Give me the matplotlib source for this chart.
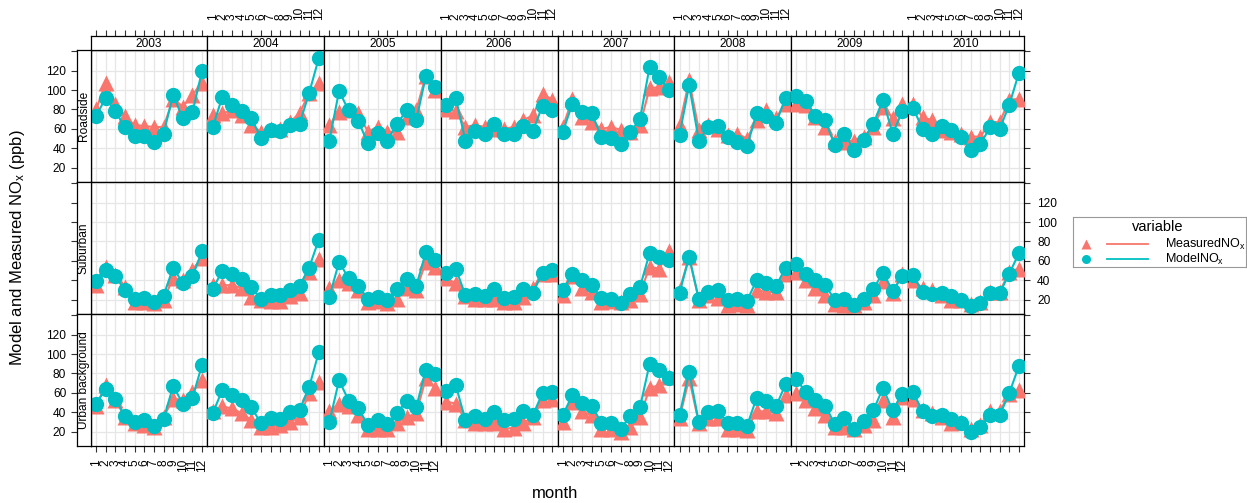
import matplotlib
matplotlib.use("Agg")
import matplotlib.pyplot as plt

plt.rcParams['font.family'] = ['Liberation Sans', 'DejaVu Sans']
plt.rcParams['mathtext.default'] = 'regular'

# === Данные ===
months = list(range(1, 13))
years = [2003, 2004, 2005, 2006, 2007, 2008, 2009, 2010]
sites = ["Roadside", "Suburban", "Urban background"]

roadside_measured = [
    [80, 107, 86, 73, 64, 63, 62, 62, 91, 83, 95, 107],
    [74, 76, 79, 74, 64, 57, 60, 60, 67, 76, 97, 107],
    [64, 77, 79, 76, 57, 62, 57, 57, 72, 79, 115, 100],
    [81, 78, 62, 64, 62, 60, 60, 62, 69, 74, 96, 90],
    [62, 91, 72, 67, 60, 62, 59, 57, 64, 102, 103, 108],
    [64, 110, 59, 64, 60, 54, 55, 50, 69, 79, 71, 86],
    [86, 85, 72, 62, 48, 47, 48, 52, 62, 83, 71, 86],
    [86, 72, 69, 59, 57, 55, 52, 52, 67, 67, 90, 91],
]
roadside_model = [
    [73, 92, 78, 62, 53, 53, 46, 55, 95, 71, 77, 120],
    [62, 93, 85, 78, 71, 51, 59, 58, 64, 65, 97, 133],
    [48, 99, 79, 68, 45, 56, 48, 65, 79, 69, 114, 103],
    [85, 92, 48, 58, 55, 65, 55, 55, 63, 58, 84, 79],
    [57, 86, 77, 76, 52, 51, 44, 57, 70, 124, 113, 100],
    [54, 105, 48, 62, 63, 52, 47, 42, 76, 73, 66, 92],
    [94, 89, 73, 69, 43, 55, 38, 49, 65, 90, 55, 78],
    [82, 60, 55, 63, 59, 52, 38, 44, 62, 60, 85, 118],
]
suburban_measured = [
    [35, 54, 45, 33, 18, 18, 17, 20, 42, 40, 51, 63],
    [35, 35, 35, 32, 23, 20, 19, 19, 24, 27, 49, 62],
    [32, 40, 37, 30, 18, 19, 17, 21, 32, 30, 59, 54],
    [42, 37, 24, 21, 21, 21, 18, 18, 23, 32, 47, 47],
    [25, 44, 32, 28, 18, 19, 18, 20, 26, 54, 52, 70],
    [30, 64, 20, 25, 22, 15, 16, 15, 30, 28, 28, 47],
    [49, 40, 32, 25, 16, 15, 15, 18, 25, 39, 27, 47],
    [40, 32, 30, 25, 20, 20, 16, 18, 28, 28, 49, 52],
]
suburban_model = [
    [39, 51, 44, 30, 21, 22, 18, 24, 53, 37, 44, 70],
    [31, 50, 47, 41, 33, 21, 25, 25, 30, 34, 53, 82],
    [23, 59, 42, 34, 21, 23, 20, 31, 41, 34, 69, 61],
    [48, 52, 25, 26, 24, 31, 22, 23, 31, 27, 48, 51],
    [30, 46, 40, 35, 22, 21, 17, 26, 33, 68, 64, 61],
    [27, 64, 21, 28, 30, 20, 21, 19, 40, 37, 34, 53],
    [57, 46, 40, 35, 20, 21, 15, 21, 31, 48, 29, 44],
    [45, 28, 26, 27, 24, 20, 14, 17, 27, 27, 47, 68],
]
urban_measured = [
    [46, 68, 53, 35, 29, 27, 25, 35, 54, 53, 61, 73],
    [41, 46, 44, 39, 32, 25, 25, 27, 30, 35, 60, 71],
    [41, 49, 46, 37, 23, 23, 23, 29, 35, 39, 75, 65],
    [51, 49, 32, 29, 29, 29, 23, 24, 29, 35, 53, 54],
    [30, 51, 41, 37, 23, 23, 20, 25, 35, 65, 68, 76],
    [34, 75, 29, 34, 34, 23, 23, 22, 41, 41, 39, 58],
    [60, 53, 44, 37, 25, 25, 23, 27, 32, 53, 35, 56],
    [54, 42, 39, 35, 29, 30, 23, 27, 41, 41, 59, 63],
]
urban_model = [
    [49, 64, 54, 36, 30, 32, 26, 33, 67, 49, 55, 89],
    [39, 63, 58, 53, 45, 29, 34, 33, 40, 42, 66, 102],
    [30, 73, 52, 44, 27, 32, 28, 39, 52, 45, 84, 79],
    [62, 68, 32, 36, 33, 40, 32, 33, 41, 37, 60, 61],
    [37, 58, 50, 47, 29, 29, 23, 36, 45, 90, 84, 75],
    [37, 82, 30, 40, 41, 29, 29, 26, 55, 52, 46, 69],
    [74, 61, 53, 47, 28, 34, 23, 31, 42, 65, 42, 59],
    [61, 41, 36, 37, 33, 29, 20, 25, 37, 37, 60, 88],
]

measured = [roadside_measured, suburban_measured, urban_measured]
model = [roadside_model, suburban_model, urban_model]

col_meas = "#F8766D"
col_model = "#00BFC4"

# === Разметка в пикселях ===
W, H = 1247, 503
fig = plt.figure(figsize=(W / 100, H / 100), dpi=100)


def box(x0, y0, x1, y1):
    return [x0 / W, 1 - y1 / H, (x1 - x0) / W, (y1 - y0) / H]


left, right = 90.7, 1024.3
top, row_h = 50, 132
col_w = (right - left) / 8
xlim = (0.45, 12.55)
ylim = (5.3, 141.3)
yticks = [20, 40, 60, 80, 100, 120, 140]
ylabels = ["20", "40", "60", "80", "100", "120", ""]
fs = 8.6
tl = 4.3

for r, site in enumerate(sites):
    y0 = top + r * row_h
    y1 = y0 + row_h
    for c, yr in enumerate(years):
        x0 = left + c * col_w
        x1 = x0 + col_w
        ax = fig.add_axes(box(x0, y0, x1, y1))
        ax.set_xlim(*xlim)
        ax.set_ylim(*ylim)
        ax.set_xticks(months, [str(m) for m in months], rotation=90)
        ax.set_yticks(yticks, ylabels)
        ax.grid(color="#e6e6e6", lw=0.9)
        ax.set_axisbelow(True)
        ax.tick_params(left=False, bottom=False, labelleft=False, labelbottom=False,
                       labelsize=fs, length=tl, width=0.8, color="#333333")
        for s in ax.spines.values():
            s.set_linewidth(0.9)

        ax.plot(months, measured[r][c], color=col_meas, lw=1.5, marker="^",
                ms=12, mec="none", zorder=3)
        ax.plot(months, model[r][c], color=col_model, lw=1.5, marker="o",
                ms=11, mec="none", zorder=4)

        if r == 2:
            ax.tick_params(axis="x", bottom=True, labelbottom=(c % 2 == 0), pad=5)
        if c == 7:
            ax.tick_params(axis="y", right=True, labelright=(r == 1), pad=5)

        if r == 0:
            st = fig.add_axes(box(x0, 36, x1, y0))
            st.set_xlim(*xlim)
            st.set_yticks([])
            st.xaxis.tick_top()
            st.set_xticks(months, [str(m) for m in months], rotation=90)
            st.tick_params(axis="x", top=True, labeltop=(c % 2 == 1), labelsize=fs,
                           length=tl, width=0.8, color="#333333", pad=7)
            st.text(0.5, 0.45, str(yr), transform=st.transAxes, ha="center",
                    va="center", fontsize=fs)
            for s in st.spines.values():
                s.set_linewidth(0.9)

    ls = fig.add_axes(box(77, y0, left, y1))
    ls.set_ylim(*ylim)
    ls.set_xticks([])
    ls.set_yticks(yticks, ylabels)
    ls.tick_params(axis="y", left=True, labelleft=(r != 1), labelsize=fs,
                   length=tl, width=0.8, color="#333333", pad=3.5)
    ls.text(0.5, 0.5, site, transform=ls.transAxes, rotation=90, ha="center",
            va="center", fontsize=8.6)
    for s in ls.spines.values():
        s.set_linewidth(0.9)

fig.text(18 / W, 1 - 248 / H, "Model and Measured NO$_x$ (ppb)", rotation=90,
         ha="center", va="center", fontsize=12)
fig.text(555 / W, 1 - 493 / H, "month", ha="center", va="center", fontsize=12)

# === Легенда ===
lg = fig.add_axes(box(1073, 217, 1246, 267))
lg.set_xlim(1073, 1246)
lg.set_ylim(267, 217)
lg.set_xticks([])
lg.set_yticks([])
for s in lg.spines.values():
    s.set_color("#999999")
    s.set_linewidth(0.8)
lg.text(1158, 227, "variable", ha="center", va="center", fontsize=10.5)
lg.plot([1086], [244], marker="^", ms=7, color=col_meas, mec="none")
lg.plot([1107, 1148], [244, 244], color=col_meas, lw=1.3)
lg.text(1165, 244, "MeasuredNO$_x$", ha="left", va="center", fontsize=9)
lg.plot([1086], [259], marker="o", ms=6.5, color=col_model, mec="none")
lg.plot([1107, 1148], [259, 259], color=col_model, lw=1.3)
lg.text(1165, 259, "ModelNO$_x$", ha="left", va="center", fontsize=9)

fig.savefig("out.png", dpi=100)
